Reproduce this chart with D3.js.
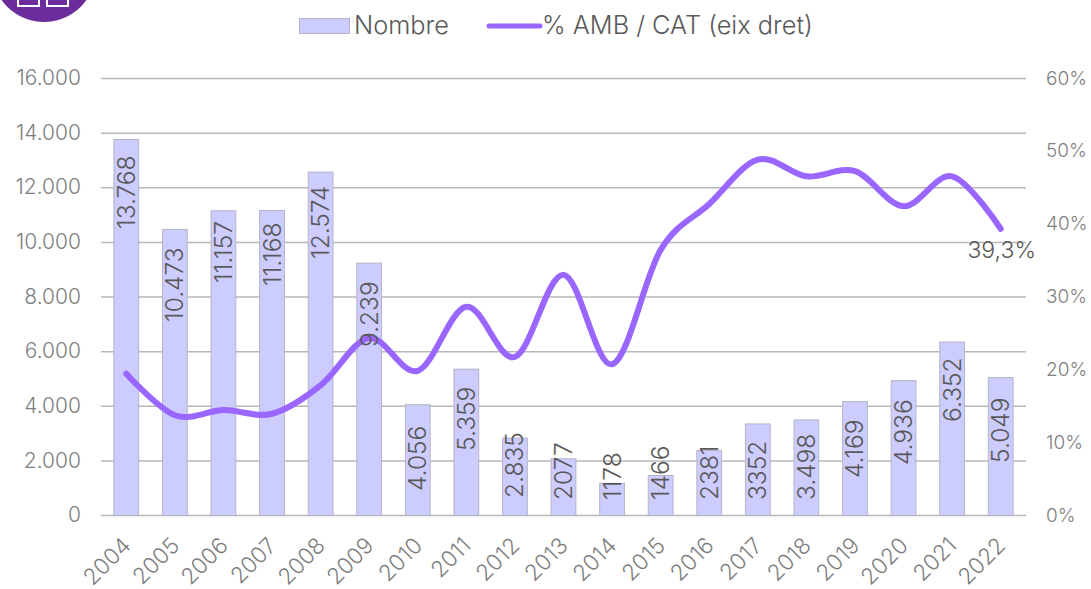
<!DOCTYPE html>
<html>
<head>
<meta charset="utf-8">
<script src="https://cdn.jsdelivr.net/npm/d3@7"></script>
<style>
  html, body { margin: 0; padding: 0; background: #fff; overflow: hidden; }
  svg { display: block; font-family: Inter, "Open Sans", sans-serif; font-weight: 300; }
  .domain { display: none; }
</style>
</head>
<body>
<div id="chart"></div>
<script>
const years = ["2004", "2005", "2006", "2007", "2008", "2009", "2010", "2011", "2012", "2013",
  "2014", "2015", "2016", "2017", "2018", "2019", "2020", "2021", "2022"];
const nombre = [13768, 10473, 11157, 11168, 12574, 9239, 4056, 5359, 2835, 2077,
  1178, 1466, 2381, 3352, 3498, 4169, 4936, 6352, 5049];
const barLabels = ["13.768", "10.473", "11.157", "11.168", "12.574", "9.239", "4.056", "5.359", "2.835", "2077",
  "1178", "1466", "2381", "3352", "3.498", "4.169", "4.936", "6.352", "5.049"];
const pctAmbCat = [19.4, 13.7, 14.4, 13.9, 17.8, 24.3, 19.8, 28.6, 21.7, 33.0,
  20.7, 36.4, 42.7, 48.8, 46.5, 47.2, 42.4, 46.5, 39.3];
const leftTicks = [0, 2000, 4000, 6000, 8000, 10000, 12000, 14000, 16000];
const leftTickLabels = ["0", "2.000", "4.000", "6.000", "8.000", "10.000", "12.000", "14.000", "16.000"];
const rightTicks = [0, 10, 20, 30, 40, 50, 60];

const width = 1091;
const height = 589;
const margin = { top: 78, right: 66, bottom: 74, left: 102 };
const textGrey = "#7f7f7f";
const labelGrey = "#595959";
const purple = "#9966ff";
const barFill = "#ccccff";
const barStroke = "#b4b4c8";

const svg = d3.select("#chart").append("svg")
  .attr("width", width)
  .attr("height", height);

const x = d3.scaleBand()
  .domain(years)
  .range([margin.left, width - margin.right])
  .paddingInner(0.49)
  .paddingOuter(0.245);

const yLeft = d3.scaleLinear()
  .domain([0, 16000])
  .range([height - margin.bottom, margin.top]);

const yRight = d3.scaleLinear()
  .domain([0, 60])
  .range([height - margin.bottom, margin.top]);

// logo cut off by the top edge
const logo = svg.append("g");
logo.append("circle").attr("cx", 44).attr("cy", -30).attr("r", 52).attr("fill", "#6b2d9b");
logo.selectAll("rect").data([18, 47]).enter().append("rect")
  .attr("x", (d) => d)
  .attr("y", -12)
  .attr("width", 21)
  .attr("height", 18)
  .attr("fill", "none")
  .attr("stroke", "#fff")
  .attr("stroke-width", 2);

// gridlines
svg.append("g")
  .selectAll("line")
  .data(leftTicks)
  .enter()
  .append("line")
  .attr("x1", margin.left - 1)
  .attr("x2", width - margin.right + 1)
  .attr("y1", (d) => yLeft(d) + 0.5)
  .attr("y2", (d) => yLeft(d) + 0.5)
  .attr("stroke", "#b8b8b8")
  .attr("stroke-width", 1.5);

// bars
svg.append("g")
  .attr("transform", "translate(0,0.5)")
  .selectAll("rect")
  .data(nombre)
  .enter()
  .append("rect")
  .attr("x", (d, i) => x(years[i]))
  .attr("y", (d) => yLeft(d))
  .attr("width", x.bandwidth())
  .attr("height", (d) => yLeft(0) - yLeft(d))
  .attr("fill", barFill)
  .attr("stroke", barStroke)
  .attr("stroke-width", 1);

// line
const line = d3.line()
  .x((d, i) => x(years[i]) + x.bandwidth() / 2)
  .y((d) => yRight(d))
  .curve(d3.curveCardinal.tension(0));

svg.append("path")
  .datum(pctAmbCat)
  .attr("fill", "none")
  .attr("stroke", purple)
  .attr("stroke-width", 6)
  .attr("stroke-linecap", "round")
  .attr("d", line);

// bar labels were placed by hand in the original, px above the baseline
const labelLift = [286, 193, 232, 229, 256, 168, 24, 64, 17, 15, 15, 15, 15, 15, 15, 37, 50, 93, 52];

svg.append("g")
  .selectAll("text")
  .data(barLabels)
  .enter()
  .append("text")
  .attr("transform", (d, i) =>
    `translate(${x(years[i]) + x.bandwidth() / 2 + 8.5},${yLeft(0) - labelLift[i]}) rotate(-90)`)
  .attr("fill", labelGrey)
  .style("font-size", "24.5px")
  .text((d) => d);

svg.append("text")
  .attr("x", x("2022") + x.bandwidth() / 2 + 1)
  .attr("y", yRight(39.3) + 29)
  .attr("text-anchor", "middle")
  .attr("fill", labelGrey)
  .style("font-size", "23px")
  .text("39,3%");

// axes
const leftAxis = svg.append("g")
  .attr("transform", `translate(${margin.left - 1},0)`)
  .call(d3.axisLeft(yLeft)
    .tickValues(leftTicks)
    .tickFormat((d, i) => leftTickLabels[i])
    .tickSize(0)
    .tickPadding(20));

const rightAxis = svg.append("g")
  .attr("transform", `translate(${width - margin.right},0)`)
  .call(d3.axisRight(yRight)
    .tickValues(rightTicks)
    .tickFormat((d) => d + "%")
    .tickSize(0)
    .tickPadding(21));

const bottomAxis = svg.append("g")
  .attr("transform", `translate(0,${height - margin.bottom})`)
  .call(d3.axisBottom(x).tickSize(0).tickPadding(0));

bottomAxis.selectAll("text")
  .attr("text-anchor", "end")
  .attr("dy", 0)
  .attr("y", 0)
  .attr("transform", "translate(6,32) rotate(-45)");

[[leftAxis, "21px"], [rightAxis, "19px"], [bottomAxis, "22.5px"]].forEach(([axis, size]) => {
  axis.selectAll("text")
    .attr("fill", textGrey)
    .style("font-family", "Inter, sans-serif")
    .style("font-weight", 300)
    .style("font-size", size);
});

// legend
const legend = svg.append("g");
legend.append("rect")
  .attr("x", 299.5).attr("y", 18.5)
  .attr("width", 50).attr("height", 15)
  .attr("fill", barFill)
  .attr("stroke", barStroke);
legend.append("text")
  .attr("x", 354).attr("y", 34)
  .attr("fill", labelGrey)
  .style("font-size", "25.3px")
  .text("Nombre");
legend.append("line")
  .attr("x1", 489).attr("x2", 540)
  .attr("y1", 26).attr("y2", 26)
  .attr("stroke", purple)
  .attr("stroke-width", 5)
  .attr("stroke-linecap", "round");
legend.append("text")
  .attr("x", 542).attr("y", 34)
  .attr("fill", labelGrey)
  .style("font-size", "25.3px")
  .text("% AMB / CAT (eix dret)");
</script>
</body>
</html>
